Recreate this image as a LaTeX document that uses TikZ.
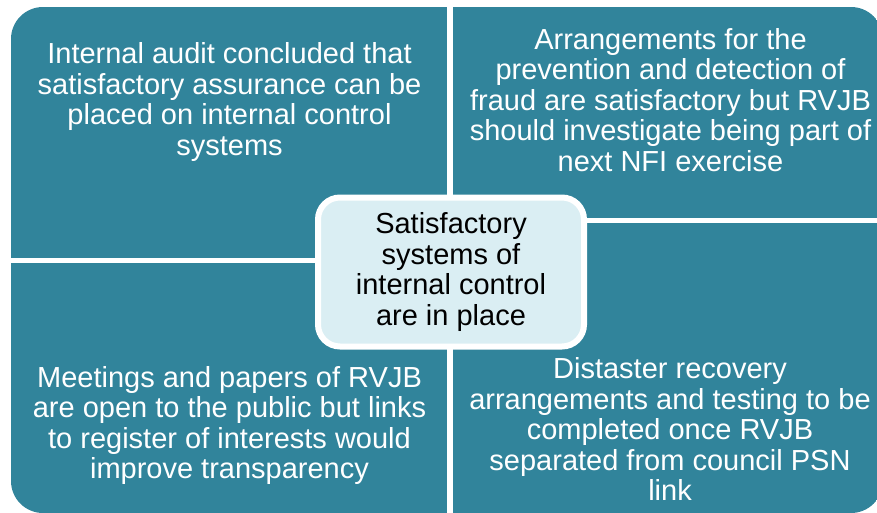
\documentclass[tikz,border=0pt]{standalone}
\usepackage{fontspec}
\setmainfont{Liberation Sans}
\usepackage{tikz}
\usetikzlibrary{shapes,positioning,calc}
\definecolor{petrolio}{RGB}{49,132,155}
\definecolor{azzurrino}{RGB}{218,238,243}
\tikzstyle{quadrante} = [fill=petrolio]
\tikzstyle{testo} = [text=white, align=center, inner sep=0pt, font=\fontsize{29}{30.5}\selectfont]
\tikzstyle{centro} = [rectangle, rounded corners=22pt, minimum width=266pt, minimum height=149pt, 
fill=azzurrino, draw=white, line width=6pt, text=black, align=center, font=\fontsize{29}{30.5}\selectfont]

\begin{document}
\begin{tikzpicture}[x=1pt,y=-1pt]
	\useasboundingbox (0,0) rectangle (877,513);
	\fill[white] (0,0) rectangle (877,513);
	% i quattro riquadri
	\begin{scope}
		\clip[rounded corners=32pt] (11,7) rectangle (883,513);
		\fill[quadrante] (11,7) rectangle (447,258);
		\fill[quadrante] (453,7) rectangle (883,218);
		\fill[quadrante] (11,263) rectangle (447,513);
		\fill[quadrante] (453,223) rectangle (883,513);
	\end{scope}
	\node[testo] (tl) at (229.5,102) {Internal audit concluded that\\satisfactory assurance can be\\placed on internal control\\systems};
	\node[testo] (tr) at (670.5,100) {Arrangements for the\\prevention and detection of\\fraud are satisfactory but RVJB\\should investigate being part of\\next NFI exercise};
	\node[testo] (bl) at (229.5,425.5) {Meetings and papers of RVJB\\are open to the public but links\\to register of interests would\\improve transparency};
	\node[testo] (br) at (670,429) {Distaster recovery\\arrangements and testing to be\\completed once RVJB\\separated from council PSN\\link};
	% box centrale
	\node[centro] (c) at (451,272) {Satisfactory\\systems of\\internal control\\are in place};
\end{tikzpicture}
\end{document}
